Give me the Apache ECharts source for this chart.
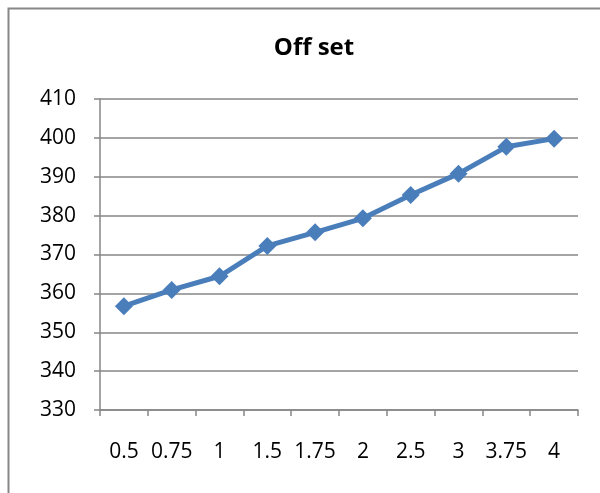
<!DOCTYPE html>
<html>
<head>
<meta charset="utf-8">
<script src="https://cdn.jsdelivr.net/npm/echarts@6/dist/echarts.min.js"></script>
<style>html,body{margin:0;padding:0;background:#fff}#c{width:600px;height:493px}</style>
</head>
<body>
<div id="c"></div>
<script>
var categories = ['0.5', '0.75', '1', '1.5', '1.75', '2', '2.5', '3', '3.75', '4'];
var offsetValues = [356.7, 360.9, 364.4, 372.2, 375.7, 379.3, 385.3, 390.8, 397.7, 399.8];
var yTicks = {min: 330, max: 410, interval: 10};

var chart = echarts.init(document.getElementById('c'));
var FONT = '"Open Sans", "Liberation Sans", sans-serif';
chart.setOption({
  animation: false,
  backgroundColor: '#fff',
  graphic: [{
    type: 'rect', shape: {x: 8.5, y: 8.5, width: 620, height: 520},
    style: {fill: 'none', stroke: '#878787', lineWidth: 2}, silent: true
  }],
  title: {
    text: 'Off set', left: 309, top: 31, textAlign: 'center',
    textStyle: {fontFamily: FONT, fontWeight: 'bold', fontSize: 24, color: '#000'}
  },
  grid: {left: 100, right: 22, top: 99, bottom: 83},
  xAxis: {
    type: 'category', data: categories, boundaryGap: true,
    axisLine: {lineStyle: {color: '#868686', width: 1.5}},
    axisTick: {show: true, length: 6, lineStyle: {color: '#868686', width: 1.5}},
    axisLabel: {interval: 0, hideOverlap: false, margin: 32, fontFamily: FONT, fontSize: 21, color: '#000'},
    splitLine: {show: false}
  },
  yAxis: {
    type: 'value', min: yTicks.min, max: yTicks.max, interval: yTicks.interval,
    axisLine: {show: true, lineStyle: {color: '#868686', width: 1.5}},
    axisTick: {show: true, length: 6, lineStyle: {color: '#868686', width: 1.5}},
    axisLabel: {margin: 24, fontFamily: FONT, fontSize: 21, color: '#000'},
    splitLine: {show: true, lineStyle: {color: '#868686', width: 1.5}}
  },
  series: [{
    type: 'line', data: offsetValues,
    lineStyle: {color: '#4a7ebb', width: 5},
    itemStyle: {color: '#4a7ebb'},
    symbol: 'diamond', symbolSize: 18
  }]
});
</script>
</body>
</html>
